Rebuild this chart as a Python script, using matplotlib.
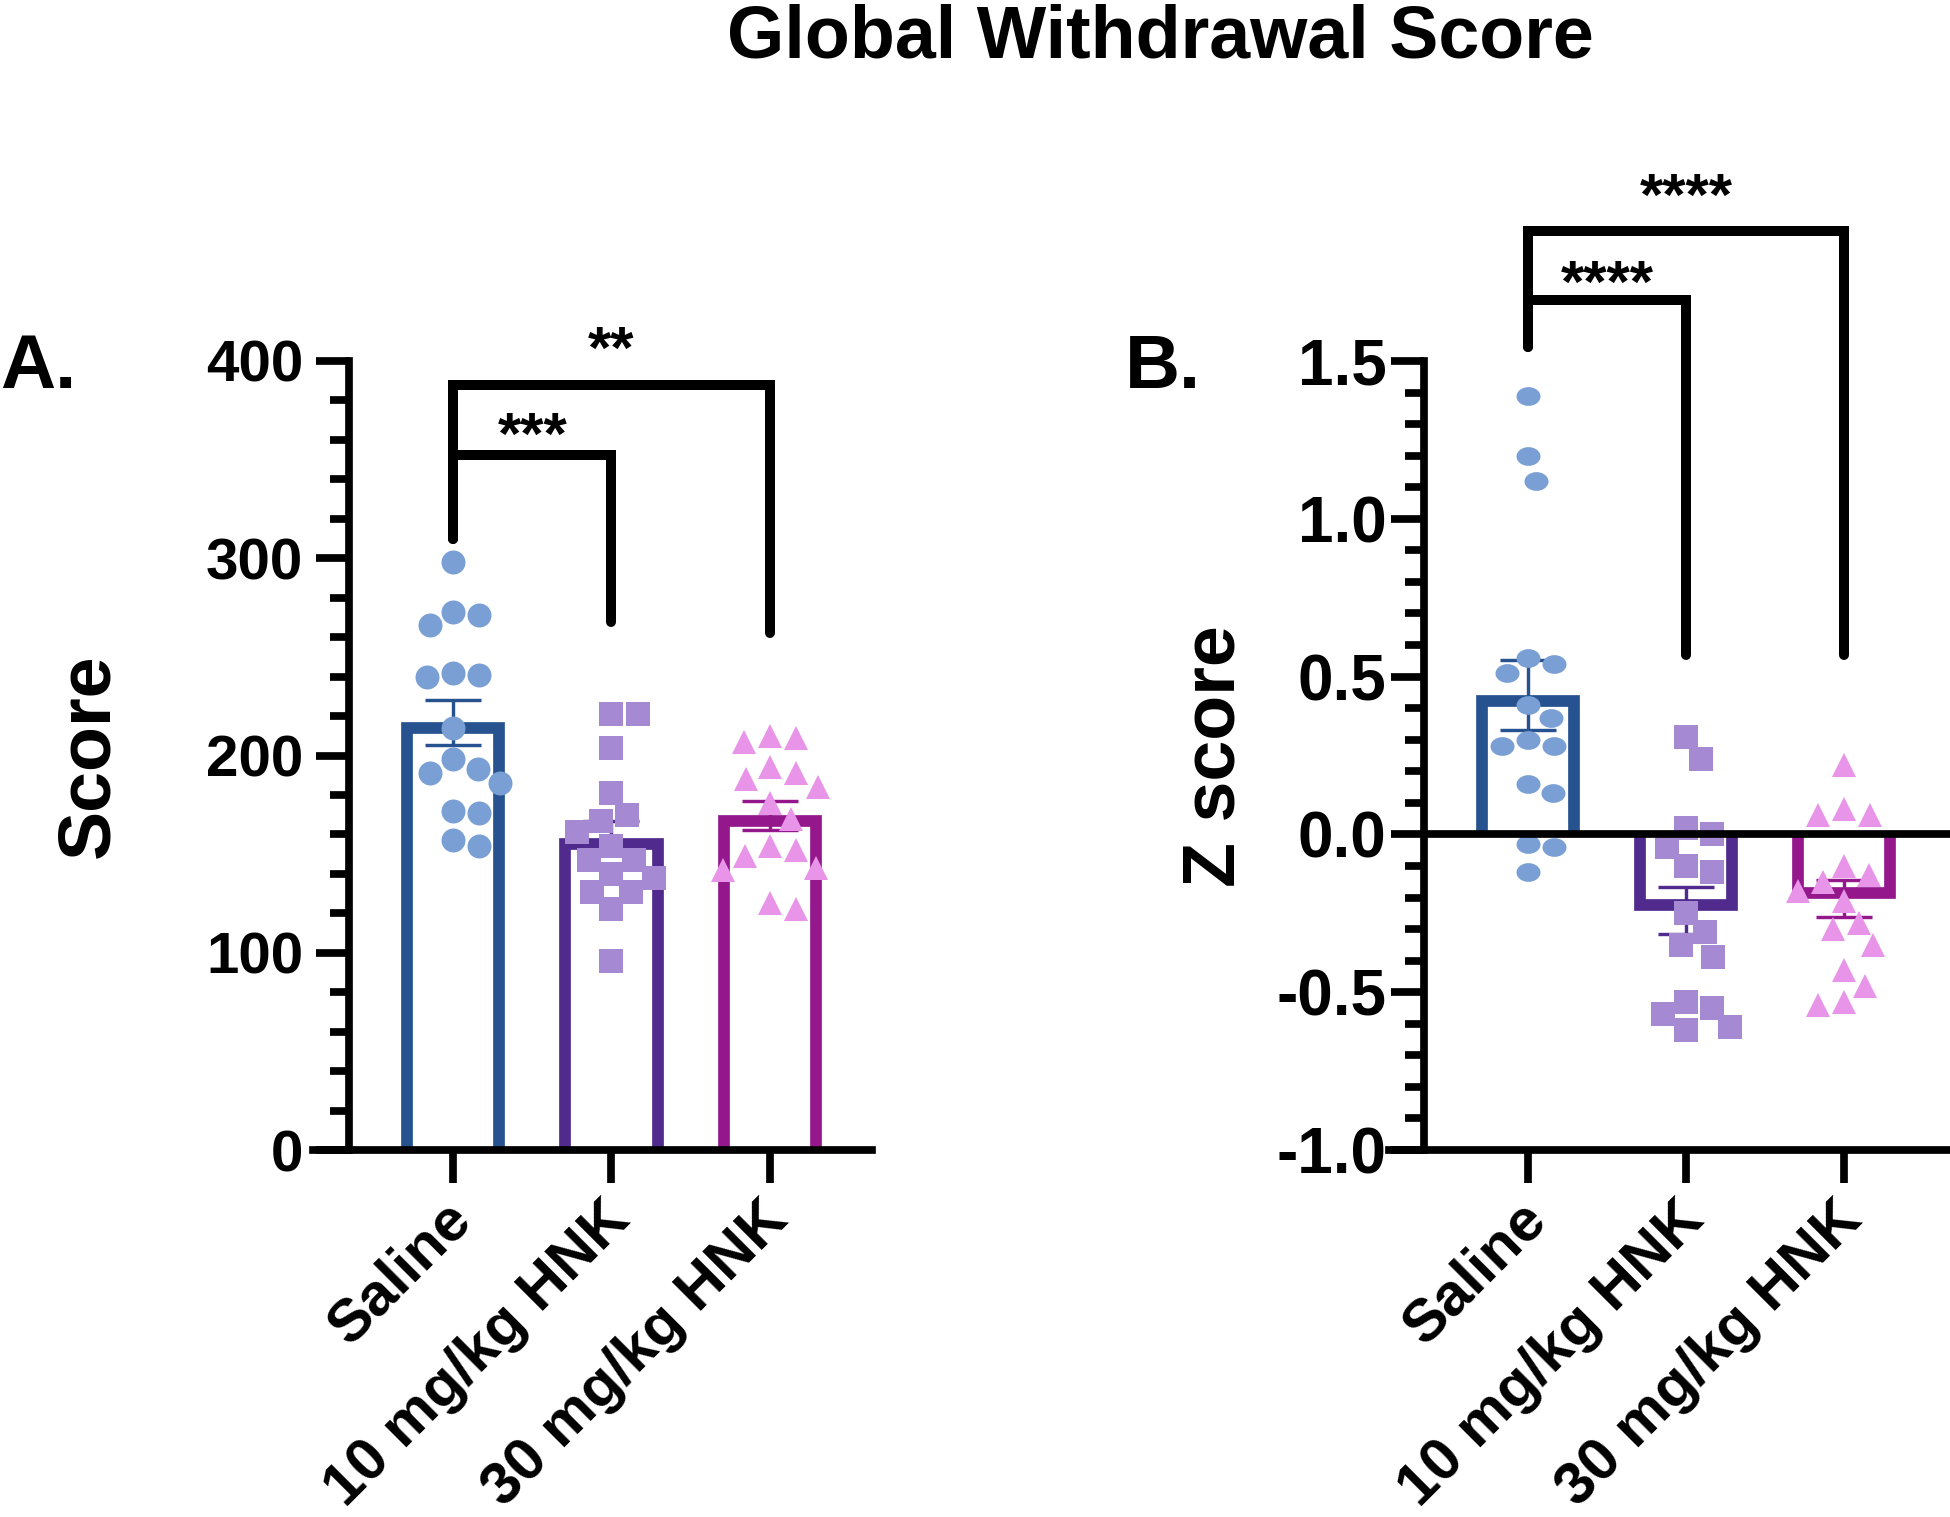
import numpy as np
import matplotlib.pyplot as plt
from matplotlib.ticker import MultipleLocator, FormatStrFormatter
from matplotlib.path import Path
from matplotlib.markers import MarkerStyle
from matplotlib.transforms import ScaledTranslation

plt.rcParams['font.family'] = ['Liberation Sans', 'DejaVu Sans']
plt.rcParams['font.weight'] = 'bold'
plt.rcParams['axes.unicode_minus'] = False

groups = ['Saline', '10 mg/kg HNK', '30 mg/kg HNK']

# A. raw withdrawal scores per animal
score_saline = [298, 271, 273, 266, 240, 241, 242, 214, 198, 193, 191, 186, 171, 172, 154, 157]
score_10 = [221, 221, 204, 181, 167, 170, 161, 154, 147, 147, 140, 138, 131, 131, 122, 96]
score_30 = [209, 210, 207, 191, 194, 188, 184, 176, 168, 154, 152, 149, 143, 142, 125, 122]

# B. z scores per animal
z_saline = [1.39, 1.20, 1.12, 0.54, 0.56, 0.51, 0.41, 0.37, 0.30, 0.28, 0.28, 0.16, 0.13, -0.03, -0.04, -0.12]
z_10 = [0.31, 0.24, 0.00, 0.02, -0.04, -0.10, -0.12, -0.25, -0.31, -0.35, -0.39, -0.53, -0.55, -0.57, -0.61, -0.62]
z_30 = [0.22, 0.06, 0.06, 0.08, -0.10, -0.15, -0.13, -0.18, -0.21, -0.30, -0.28, -0.35, -0.43, -0.48, -0.53, -0.54]

edge_cols = ['#26528F', '#502A8C', '#94188C']
pt_cols = ['#7A9FD4', '#A589D3', '#E894E8']

DPI = 100
PX = 72.0 / DPI          # points per pixel

# squashed circle, as in panel B
circ = Path.unit_circle()
ellipse = MarkerStyle(Path(circ.vertices * [1.0, 0.78], circ.codes))


def swarm(vals, d, sx, sy):
    # simple beeswarm in pixel space, returns x offsets in data units
    vals = np.asarray(vals, float)
    order = np.argsort(-vals, kind='stable')
    placed = []
    out = np.zeros(len(vals))
    for i in order:
        y = vals[i] * sy
        cands = [0.0]
        for px, py in placed:
            dy = abs(py - y)
            if dy < d:
                dx = np.sqrt(d * d - dy * dy)
                cands += [px + dx, px - dx]
        cands.sort(key=abs)
        for c in cands:
            if all((c - px) ** 2 + (y - py) ** 2 >= d * d - 1e-6 for px, py in placed):
                break
        placed.append((c, y))
        out[i] = c / sx
    return out


def panel(ax, data, markers, ylim, yaxis_x, major, minor, fmt, ypad, ysize, zero_line=False):
    xlim = ax.get_xlim()
    ax.set_ylim(*ylim)
    for s in ['top', 'right']:
        ax.spines[s].set_visible(False)
    ax.spines['left'].set_position(('data', yaxis_x))
    ax.spines['left'].set_bounds(*ylim)
    for s in ['left', 'bottom']:
        ax.spines[s].set_linewidth(7.7 * PX)
    ax.yaxis.set_major_locator(MultipleLocator(major))
    ax.yaxis.set_minor_locator(MultipleLocator(minor))
    ax.yaxis.set_major_formatter(FormatStrFormatter(fmt))
    ax.tick_params(axis='y', which='major', length=24, width=7.7 * PX, pad=ypad, labelsize=ysize)
    ax.tick_params(axis='y', which='minor', length=14, width=7.7 * PX)
    ax.set_xticks([0, 1, 2])
    ax.set_xticklabels(groups, rotation=45, ha='right', va='top', rotation_mode='anchor', fontsize=43)
    ax.tick_params(axis='x', length=24, width=7.7 * PX, pad=8)
    shift = ScaledTranslation(-10 / DPI, 3 / DPI, ax.figure.dpi_scale_trans)
    for lab in ax.get_xticklabels():
        lab.set_transform(lab.get_transform() + shift)

    p0 = ax.transData.transform((0, 0))
    p1 = ax.transData.transform((1, 1))
    sx, sy = p1[0] - p0[0], p1[1] - p0[1]

    bar_lw = 11.7
    hx = bar_lw / 2 / sx
    hy = bar_lw / 2 / sy
    half = 0.329
    for i, vals in enumerate(data):
        vals = np.asarray(vals, float)
        m = vals.mean()
        sem = vals.std(ddof=1) / np.sqrt(len(vals))
        top = m - np.sign(m) * hy
        ax.plot([i - half + hx, i - half + hx, i + half - hx, i + half - hx], [0, top, top, 0],
                color=edge_cols[i], lw=bar_lw * PX, solid_joinstyle='miter',
                solid_capstyle='butt', zorder=2)
        ax.errorbar(i, m, yerr=sem, fmt='none', ecolor=edge_cols[i], elinewidth=3.4 * PX,
                    capsize=27.7 * PX, capthick=3.4 * PX, zorder=3)
        offs = swarm(vals, 26.5, sx, sy)
        ax.plot(i + offs, vals, linestyle='none', marker=markers[i], markersize=24 * PX,
                markerfacecolor=pt_cols[i], markeredgewidth=0, zorder=4, clip_on=False)
    if zero_line:
        ax.plot([yaxis_x, xlim[1]], [0, 0], color='black', lw=7.7 * PX,
                solid_capstyle='butt', zorder=5, clip_on=False)
    ax.set_xlim(*xlim)
    return sx, sy


def bracket(ax, i, j, h, left_end, right_end, label, txt_px):
    ax.plot([i, i, j, j], [left_end, h, h, right_end], color='black', lw=10 * PX,
            solid_capstyle='round', solid_joinstyle='miter', clip_on=False, zorder=6)
    ax.annotate(label, xy=((i + j) / 2, h), xytext=(0, txt_px * PX), textcoords='offset points',
                ha='center', va='baseline', fontsize=43, annotation_clip=False)


fig = plt.figure(figsize=(19.5, 15.17), dpi=DPI)
H = 1517.0
W = 1950.0

axA = fig.add_axes([313 / W, (H - 1150) / H, 559 / W, 789 / H])
axA.set_xlim(-0.883, 2.644)
axA.set_ylim(0, 400)
panel(axA, [score_saline, score_10, score_30], ['o', 's', '^'], (0, 400),
      -0.656, 100, 20, '%d', 9, 42)
bracket(axA, 0, 1, 352.5, 310, 267.7, '***', 1)
bracket(axA, 0, 2, 388, 310, 261.9, '**', 17)

axB = fig.add_axes([1389 / W, (H - 1150) / H, 561 / W, 789 / H])
axB.set_xlim(-0.880, 2.671)
axB.set_ylim(-1.0, 1.5)
panel(axB, [z_saline, z_10, z_30], [ellipse, 's', '^'], (-1.0, 1.5),
      -0.660, 0.5, 0.1, '%.1f', 3, 46, zero_line=True)
bracket(axB, 0, 1, 1.693, 1.545, 0.567, '****', -1.5)
bracket(axB, 0, 2, 1.913, 1.545, 0.567, '****', 16)

fig.text(90 / W, 1 - 756 / H, 'Score', rotation=90, ha='center', va='center', fontsize=53)
fig.text(1215 / W, 1 - 756 / H, 'Z score', rotation=90, ha='center', va='center', fontsize=53)
fig.text(0 / W, 1 - 388 / H, 'A.', ha='left', va='baseline', fontsize=55)
fig.text(1125 / W, 1 - 388 / H, 'B.', ha='left', va='baseline', fontsize=55)
fig.text(1160 / W, 1 - 57 / H, 'Global Withdrawal Score', ha='center', va='baseline', fontsize=53)

fig.savefig('out.png', dpi=DPI)
